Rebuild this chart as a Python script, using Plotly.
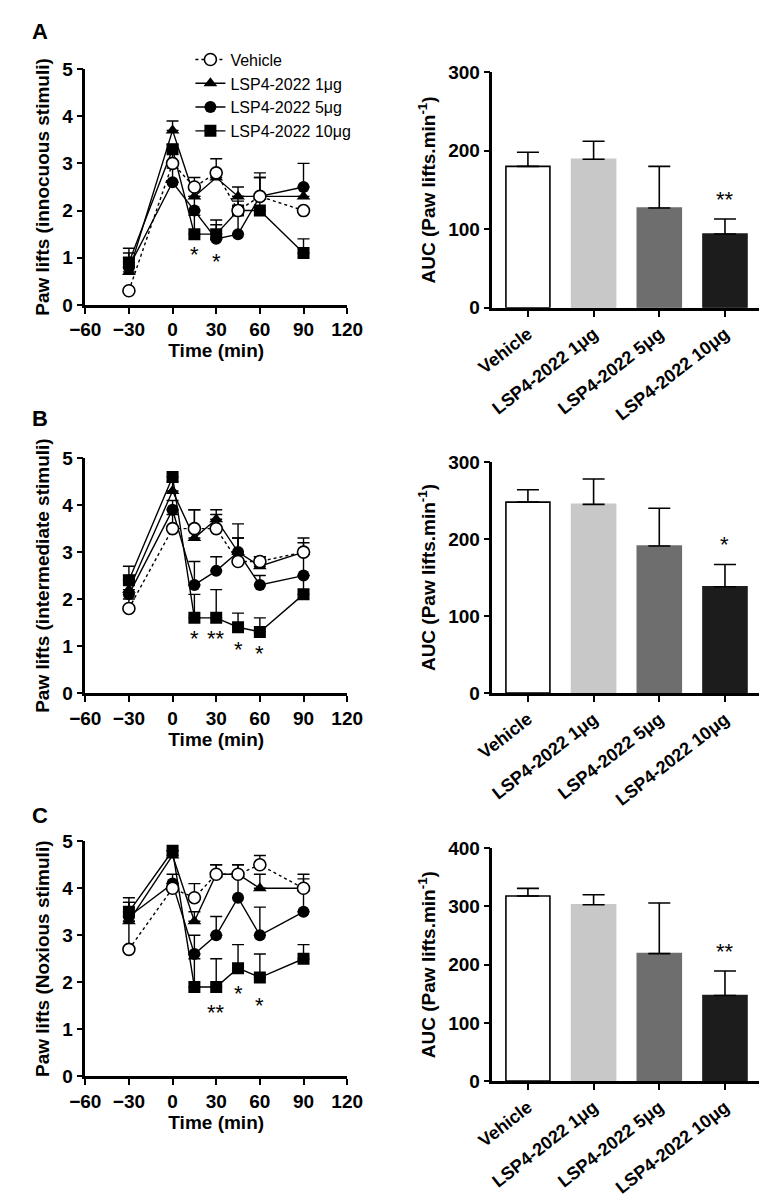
import plotly.graph_objects as go

# ---------------- data ----------------
times = [-30, 0, 15, 30, 45, 60, 90]
series_names = ["Vehicle", "LSP4-2022 1μg", "LSP4-2022 5μg", "LSP4-2022 10μg"]

# Panel A (innocuous stimuli)
a_veh = [0.3, 3.0, 2.5, 2.8, 2.0, 2.3, 2.0]
a_veh_err = [0.0, 0.3, 0.2, 0.3, 0.3, 0.5, 0.0]
a_1 = [0.7, 3.7, 2.3, 2.7, 2.3, 2.3, 2.3]
a_1_err = [0.3, 0.2, 0.2, 0.1, 0.2, 0.4, 0.0]
a_5 = [0.8, 2.6, 2.0, 1.4, 1.5, 2.3, 2.5]
a_5_err = [0.3, 0.3, 0.3, 0.4, 0.5, 0.4, 0.5]
a_10 = [0.9, 3.3, 1.5, 1.5, 2.0, 2.0, 1.1]
a_10_err = [0.3, 0.1, 0.4, 0.2, 0.2, 0.3, 0.3]

# Panel B (intermediate stimuli)
b_veh = [1.8, 3.5, 3.5, 3.5, 2.8, 2.8, 3.0]
b_veh_err = [0.2, 0.3, 0.4, 0.3, 0.5, 0.1, 0.3]
b_1 = [2.2, 4.3, 3.3, 3.7, 3.0, 2.7, 3.0]
b_1_err = [0.3, 0.2, 0.6, 0.2, 0.6, 0.2, 0.2]
b_5 = [2.1, 3.9, 2.3, 2.6, 3.0, 2.3, 2.5]
b_5_err = [0.3, 0.2, 0.5, 0.3, 0.3, 0.2, 0.5]
b_10 = [2.4, 4.6, 1.6, 1.6, 1.4, 1.3, 2.1]
b_10_err = [0.3, 0.0, 0.5, 0.6, 0.3, 0.3, 0.4]

# Panel C (noxious stimuli)
c_veh = [2.7, 4.0, 3.8, 4.3, 4.3, 4.5, 4.0]
c_veh_err = [0.6, 0.1, 0.3, 0.2, 0.2, 0.2, 0.3]
c_1 = [3.3, 4.7, 3.3, 4.3, 4.3, 4.0, 4.0]
c_1_err = [0.4, 0.1, 0.2, 0.2, 0.2, 0.3, 0.2]
c_5 = [3.4, 4.1, 2.6, 3.0, 3.8, 3.0, 3.5]
c_5_err = [0.3, 0.2, 0.4, 0.4, 0.5, 0.6, 0.5]
c_10 = [3.5, 4.8, 1.9, 1.9, 2.3, 2.1, 2.5]
c_10_err = [0.3, 0.0, 0.6, 0.6, 0.5, 0.5, 0.3]

# significance marks on time courses
a_star_x = [15, 30]
a_star_y = [1.15, 1.0]
a_star_t = ["*", "*"]
b_star_x = [15, 30, 45, 60]
b_star_y = [1.25, 1.25, 1.02, 0.92]
b_star_t = ["*", "**", "*", "*"]
c_star_x = [30, 45, 60]
c_star_y = [1.45, 1.85, 1.6]
c_star_t = ["**", "*", "*"]

# AUC bars
bar_cats = ["Vehicle", "LSP4-2022 1μg", "LSP4-2022 5μg", "LSP4-2022 10μg"]
auc_a = [180, 189, 127, 94]
auc_a_err = [18, 23, 53, 19]
auc_b = [248, 245, 191, 138]
auc_b_err = [16, 33, 49, 29]
auc_c = [318, 303, 219, 147]
auc_c_err = [13, 17, 87, 42]
auc_a_star = ["", "", "", "**"]
auc_b_star = ["", "", "", "*"]
auc_c_star = ["", "", "", "**"]

x_ticks = [-60, -30, 0, 30, 60, 90, 120]

# ---------------- styling ----------------
FONT = "Arial, Liberation Sans, Helvetica, sans-serif"
marker_styles = [
    dict(symbol="circle", color="white", size=12, line=dict(color="black", width=1.6)),
    dict(symbol="triangle-up", color="black", size=12, line=dict(color="black", width=0)),
    dict(symbol="circle", color="black", size=12, line=dict(color="black", width=0)),
    dict(symbol="square", color="black", size=12, line=dict(color="black", width=0)),
]
line_styles = [
    dict(color="black", width=1.4, dash="3px,3px"),
    dict(color="black", width=1.4),
    dict(color="black", width=1.4),
    dict(color="black", width=1.4),
]
bar_colors = ["white", "#c8c8c8", "#6e6e6e", "#1c1c1c"]
bar_edge = ["black", "#c8c8c8", "#6e6e6e", "#1c1c1c"]

fig = go.Figure()

panels = [
    ([a_veh, a_1, a_5, a_10], [a_veh_err, a_1_err, a_5_err, a_10_err], "x", "y"),
    ([b_veh, b_1, b_5, b_10], [b_veh_err, b_1_err, b_5_err, b_10_err], "x2", "y2"),
    ([c_veh, c_1, c_5, c_10], [c_veh_err, c_1_err, c_5_err, c_10_err], "x3", "y3"),
]

for p, (vals, errs, xa, ya) in enumerate(panels):
    for k in [3, 2, 1, 0]:
        fig.add_trace(go.Scatter(
            x=times, y=vals[k], mode="lines+markers",
            name=series_names[k], legendrank=k + 1,
            showlegend=(p == 0),
            line=line_styles[k], marker=marker_styles[k],
            error_y=dict(type="data", symmetric=False, array=errs[k],
                         arrayminus=[0] * len(times), color="black",
                         thickness=1.4, width=6),
            xaxis=xa, yaxis=ya,
        ))

bars = [
    (auc_a, auc_a_err, auc_a_star, "x4", "y4"),
    (auc_b, auc_b_err, auc_b_star, "x5", "y5"),
    (auc_c, auc_c_err, auc_c_star, "x6", "y6"),
]
for vals, errs, stars, xa, ya in bars:
    fig.add_trace(go.Bar(
        x=bar_cats, y=vals, showlegend=False,
        marker=dict(color=bar_colors, line=dict(color=bar_edge, width=1.6)),
        width=0.67,
        error_y=dict(type="data", symmetric=False, array=errs,
                     arrayminus=[0] * len(vals), color="black",
                     thickness=1.6, width=11),
        xaxis=xa, yaxis=ya,
    ))
    for c, v, e, s in zip(bar_cats, vals, errs, stars):
        if s:
            fig.add_annotation(x=c, y=v + e, xref=xa, yref=ya, text=s,
                               showarrow=False, yanchor="middle", yshift=20,
                               font=dict(family=FONT, size=22, color="black"))

for sx, sy, st, xa, ya in [(a_star_x, a_star_y, a_star_t, "x", "y"),
                           (b_star_x, b_star_y, b_star_t, "x2", "y2"),
                           (c_star_x, c_star_y, c_star_t, "x3", "y3")]:
    for x, y, t in zip(sx, sy, st):
        fig.add_annotation(x=x, y=y, xref=xa, yref=ya, text=t, showarrow=False,
                           yanchor="middle", yshift=-4,
                           font=dict(family=FONT, size=22, color="black"))

H = 1200.0
W = 770.0


def ydom(top, bottom):
    return [1 - bottom / H, 1 - top / H]


axis_common = dict(showline=True, linecolor="black", linewidth=2.5, ticks="outside",
                   ticklen=6, tickwidth=2, tickcolor="black", showgrid=False,
                   zeroline=False,
                   tickfont=dict(family=FONT, size=19, color="black", weight="bold"))
title_font = dict(family=FONT, size=19, color="black", weight="bold")

line_x_dom = [62 / W, 336 / W]
bar_x_dom = [488 / W, 767 / W]
line_y_doms = [ydom(52, 292), ydom(448, 687), ydom(838, 1077)]
bar_y_doms = [ydom(55, 295), ydom(452, 687), ydom(845, 1082)]
line_titles = ["Paw lifts (innocuous stimuli)", "Paw lifts (intermediate stimuli)",
               "Paw lifts (Noxious stimuli)"]
bar_ranges = [[0, 300], [0, 300], [0, 400]]

layout = dict(
    width=770, height=1200, margin=dict(l=0, r=0, t=0, b=0),
    plot_bgcolor="white", paper_bgcolor="white",
    font=dict(family=FONT, color="black"),
    legend=dict(x=172 / W, y=1 - 25 / H, xanchor="left", yanchor="top",
                font=dict(family=FONT, size=16, color="black"),
                bgcolor="rgba(0,0,0,0)", tracegroupgap=0, itemwidth=30),
)

for i in range(3):
    xn = "xaxis" if i == 0 else f"xaxis{i + 1}"
    yn = "yaxis" if i == 0 else f"yaxis{i + 1}"
    ya_ref = "y" if i == 0 else f"y{i + 1}"
    xa_ref = "x" if i == 0 else f"x{i + 1}"
    layout[xn] = dict(axis_common, domain=line_x_dom, range=[-60, 120],
                      tickvals=x_ticks, anchor=ya_ref,
                      title=dict(text="Time (min)", font=title_font, standoff=2))
    layout[yn] = dict(axis_common, domain=line_y_doms[i], range=[0, 5], dtick=1,
                      anchor=xa_ref,
                      title=dict(text=line_titles[i], font=title_font, standoff=8))
    bxn = f"xaxis{i + 4}"
    byn = f"yaxis{i + 4}"
    layout[bxn] = dict(axis_common, domain=bar_x_dom, range=[-0.54, 3.52],
                       tickangle=-38, anchor=f"y{i + 4}", type="category",
                       tickfont=dict(family=FONT, size=18, color="black", weight="bold"))
    layout[byn] = dict(axis_common, domain=bar_y_doms[i], range=bar_ranges[i],
                       dtick=100, anchor=f"x{i + 4}",
                       title=dict(text="AUC (Paw lifts.min<sup>-1</sup>)",
                                  font=title_font, standoff=8))

fig.update_layout(**layout)

for letter, ypx in [("A", 14), ("B", 408), ("C", 812)]:
    fig.add_annotation(text=letter, x=4 / W, y=1 - ypx / H, xref="paper", yref="paper",
                       xanchor="left", yanchor="middle", showarrow=False,
                       font=dict(family=FONT, size=22, color="black", weight="bold"))

fig.write_html("out.html")
